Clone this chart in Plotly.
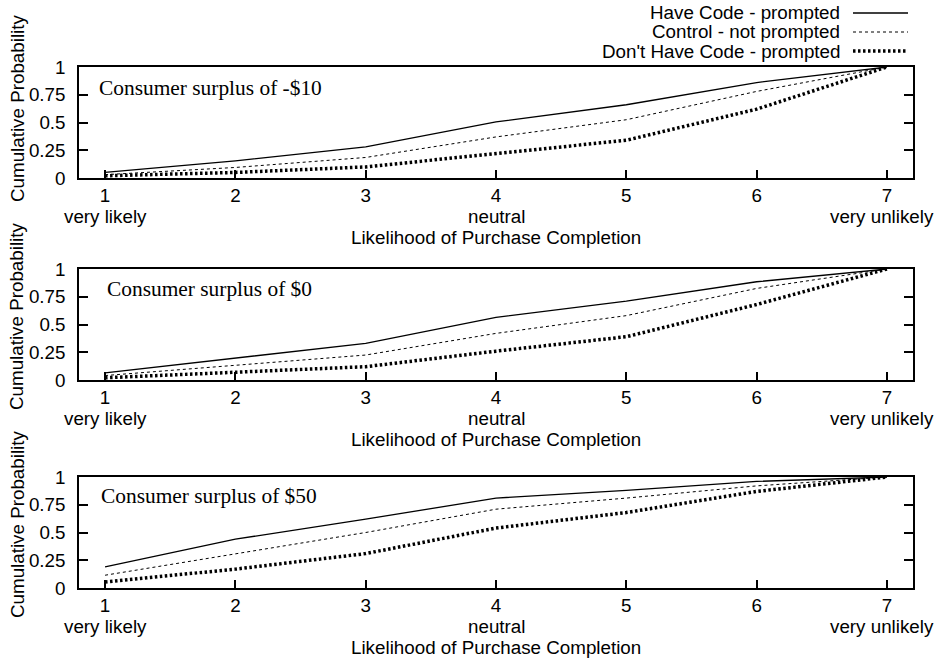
import plotly.graph_objects as go

x_vals = [1, 2, 3, 4, 5, 6, 7]
x_ticktext = ["1", "2", "3", "4", "5", "6", "7"]
x_sublabel_pos = [1, 4, 7]
x_sublabels = ["very likely", "neutral", "very unlikely"]
y_tickvals = [0, 0.25, 0.5, 0.75, 1]
y_ticktext = ["0", "0.25", "0.5", "0.75", "1"]

series_names = ["Have Code - prompted", "Control - not prompted", "Don't Have Code - prompted"]
panel_titles = ["Consumer surplus of -$10", "Consumer surplus of $0", "Consumer surplus of $50"]

p1_have = [0.05, 0.155, 0.28, 0.505, 0.66, 0.86, 1.0]
p1_ctrl = [0.03, 0.095, 0.185, 0.37, 0.525, 0.78, 1.0]
p1_dont = [0.02, 0.05, 0.10, 0.22, 0.34, 0.62, 1.0]

p2_have = [0.065, 0.195, 0.33, 0.565, 0.71, 0.885, 1.0]
p2_ctrl = [0.04, 0.13, 0.225, 0.42, 0.58, 0.825, 1.0]
p2_dont = [0.02, 0.07, 0.12, 0.26, 0.39, 0.68, 1.0]

p3_have = [0.19, 0.44, 0.62, 0.81, 0.88, 0.96, 1.0]
p3_ctrl = [0.115, 0.31, 0.50, 0.71, 0.81, 0.92, 1.0]
p3_dont = [0.055, 0.17, 0.31, 0.54, 0.68, 0.87, 1.0]

panels = [(p1_have, p1_ctrl, p1_dont), (p2_have, p2_ctrl, p2_dont), (p3_have, p3_ctrl, p3_dont)]

W, H = 943, 660
SANS = "Liberation Sans, Arial, sans-serif"
SERIF = "Liberation Serif, Times New Roman, serif"


def fx(v):
    return v / W


def fy(v):
    return 1 - v / H


line_styles = [
    dict(color="black", width=1.3, dash="solid"),
    dict(color="black", width=1.0, dash="3px,3px"),
    dict(color="black", width=3.5, dash="2.5px,2.5px"),
]

# pixel geometry of the panels (top, bottom)
panel_px = [(67, 178), (269, 380), (477, 588)]
x_left, x_right = 79, 913

fig = go.Figure()
for i, data in enumerate(panels):
    xa = "x" if i == 0 else f"x{i+1}"
    ya = "y" if i == 0 else f"y{i+1}"
    for j, ser in enumerate(data):
        fig.add_trace(go.Scatter(x=x_vals, y=ser, mode="lines", line=line_styles[j],
                                 name=series_names[j], showlegend=False, hoverinfo="skip",
                                 xaxis=xa, yaxis=ya))

axis_font = dict(family=SANS, size=18.8, color="black")
layout = dict(width=W, height=H, margin=dict(l=0, r=0, t=0, b=0, autoexpand=False),
              paper_bgcolor="white", plot_bgcolor="white", showlegend=False)
annotations = []
shapes = []
for i, (top, bot) in enumerate(panel_px):
    sfx = "" if i == 0 else str(i + 1)
    layout[f"xaxis{sfx}"] = dict(
        domain=[fx(x_left), fx(x_right)], range=[0.8, 7.2], anchor=f"y{sfx}",
        tickvals=x_vals, ticktext=x_ticktext, ticks="inside", ticklen=8,
        tickcolor="black", tickwidth=1.5, showline=True, linecolor="black",
        linewidth=1.5, mirror=True, showgrid=False, zeroline=False,
        tickfont=axis_font, ticklabelstandoff=0, automargin=False)
    layout[f"yaxis{sfx}"] = dict(
        domain=[fy(bot), fy(top)], range=[0, 1], anchor=f"x{sfx}",
        tickvals=y_tickvals, ticktext=y_ticktext, ticks="inside", ticklen=9,
        tickcolor="black", tickwidth=1.5, showline=True, linecolor="black",
        linewidth=1.5, mirror="ticks", showgrid=False, zeroline=False,
        tickfont=axis_font, ticklabelstandoff=8, automargin=False)
    # panel label
    annotations.append(dict(text=panel_titles[i], xref=f"x{sfx} domain", yref=f"y{sfx} domain",
                            x=[0.021, 0.031, 0.024][i], y=[0.81, 0.82, 0.83][i],
                            xanchor="left", yanchor="middle", showarrow=False,
                            font=dict(family=SERIF, size=21.4, color="black")))
    # tick sub-labels
    for k, (xp, lab) in enumerate(zip(x_sublabel_pos, x_sublabels)):
        annotations.append(dict(text=lab, xref=f"x{sfx}", yref="paper",
                                x=xp, y=fy(bot + 38), xshift=[0, 0, -5][k],
                                xanchor="center", yanchor="middle", showarrow=False,
                                font=axis_font))
    # x title
    annotations.append(dict(text="Likelihood of Purchase Completion", xref="paper", yref="paper",
                            x=fx((x_left + x_right) / 2), y=fy(bot + 59),
                            xanchor="center", yanchor="middle", showarrow=False,
                            font=axis_font))
    # y title
    annotations.append(dict(text="Cumulative Probability", xref="paper", yref="paper",
                            x=fx(17), y=fy([109, 317, 525][i]), textangle=-90,
                            xanchor="center", yanchor="middle", showarrow=False,
                            font=axis_font))

# manual legend (text right-aligned, sample on the right)
leg_rows = [13, 32, 51]
for j, name in enumerate(series_names):
    annotations.append(dict(text=name, xref="paper", yref="paper", x=fx(842), y=fy(leg_rows[j]),
                            xanchor="right", yanchor="middle", showarrow=False, font=axis_font))
    shapes.append(dict(type="line", xref="paper", yref="paper", x0=fx(853), x1=fx(908),
                       y0=fy(leg_rows[j]), y1=fy(leg_rows[j]), line=line_styles[j]))

layout["annotations"] = annotations
layout["shapes"] = shapes
fig.update_layout(**layout)
fig.write_html("out.html", config={"displayModeBar": False},
               post_script="document.body.style.margin='0px';document.body.style.padding='0px';")
